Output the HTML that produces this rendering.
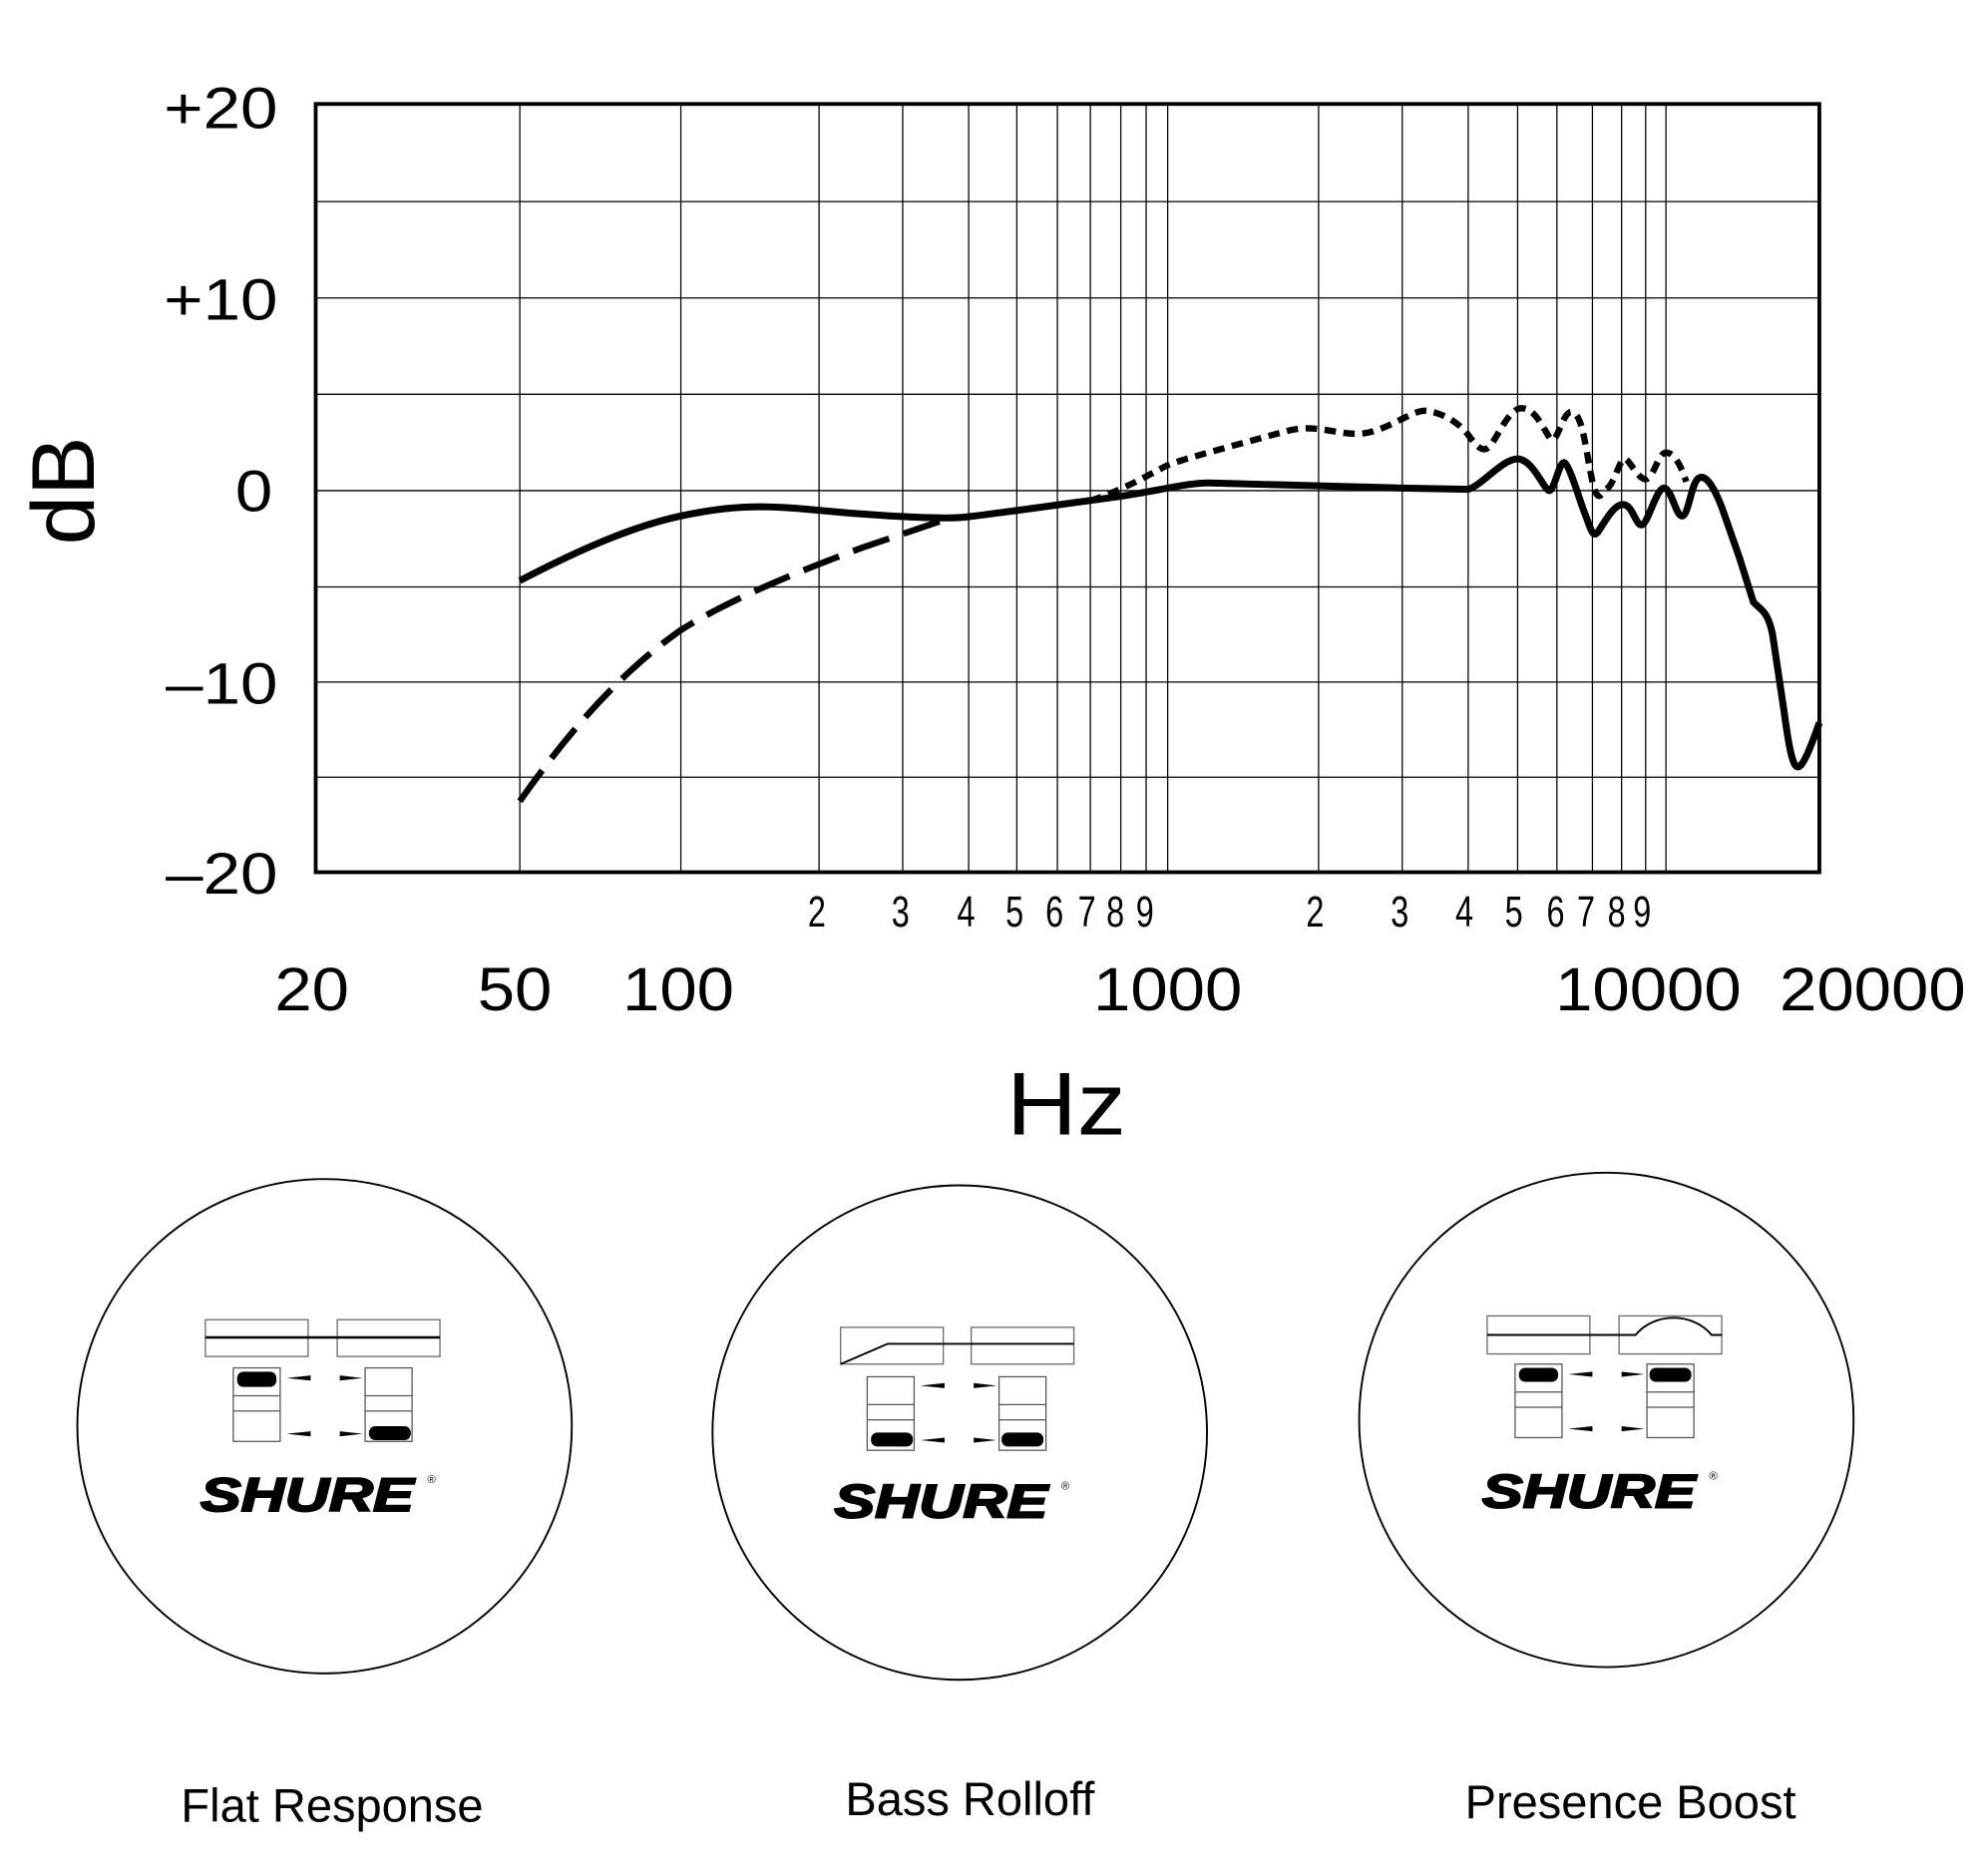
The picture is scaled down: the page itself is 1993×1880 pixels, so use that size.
<!DOCTYPE html>
<html><head><meta charset="utf-8"><style>
html,body{margin:0;padding:0;background:#fff;}
svg{display:block;}
text{font-family:"Liberation Sans",sans-serif;fill:#000;}
</style></head><body>
<svg width="1993" height="1880" viewBox="0 0 1568 1479" preserveAspectRatio="none" xmlns="http://www.w3.org/2000/svg">
<defs>
<g id="sw">
  <rect x="0" y="0" width="37" height="58" fill="none" stroke="#555" stroke-width="1"/>
  <line x1="0" y1="22" x2="37" y2="22" stroke="#555" stroke-width="1"/>
  <line x1="0" y1="34" x2="37" y2="34" stroke="#555" stroke-width="1"/>
</g>
<g id="shure">
  <text x="0" y="0" font-size="37" font-weight="bold" font-style="italic" stroke="#000" stroke-width="1.5" transform="scale(1.3,1)">SHURE</text>
  <text x="179" y="-22" font-size="9">®</text>
</g>
</defs>
<g stroke="#000" stroke-width="1">
<line x1="249" y1="159" x2="1435" y2="159"/>
<line x1="249" y1="235" x2="1435" y2="235"/>
<line x1="249" y1="311" x2="1435" y2="311"/>
<line x1="249" y1="387" x2="1435" y2="387"/>
<line x1="249" y1="463" x2="1435" y2="463"/>
<line x1="249" y1="538" x2="1435" y2="538"/>
<line x1="249" y1="613" x2="1435" y2="613"/>
<line x1="410" y1="82" x2="410" y2="688"/><line x1="537" y1="82" x2="537" y2="688"/>
<line x1="646" y1="82" x2="646" y2="688"/><line x1="712" y1="82" x2="712" y2="688"/>
<line x1="764" y1="82" x2="764" y2="688"/><line x1="802" y1="82" x2="802" y2="688"/>
<line x1="834" y1="82" x2="834" y2="688"/><line x1="860" y1="82" x2="860" y2="688"/>
<line x1="884" y1="82" x2="884" y2="688"/><line x1="904" y1="82" x2="904" y2="688"/>
<line x1="921" y1="82" x2="921" y2="688"/><line x1="1040" y1="82" x2="1040" y2="688"/>
<line x1="1106" y1="82" x2="1106" y2="688"/><line x1="1158" y1="82" x2="1158" y2="688"/>
<line x1="1197" y1="82" x2="1197" y2="688"/><line x1="1228" y1="82" x2="1228" y2="688"/>
<line x1="1256" y1="82" x2="1256" y2="688"/><line x1="1279" y1="82" x2="1279" y2="688"/>
<line x1="1298" y1="82" x2="1298" y2="688"/><line x1="1314" y1="82" x2="1314" y2="688"/>
</g>
<rect x="249" y="82" width="1186" height="606" fill="none" stroke="#000" stroke-width="3"/>
<g font-size="46" text-anchor="end">
<text transform="translate(219,101) scale(1.15,1)">+20</text>
<text transform="translate(219,252) scale(1.15,1)">+10</text>
<text transform="translate(215,403) scale(1.15,1)">0</text>
<text transform="translate(219,555) scale(1.15,1)">–10</text>
<text transform="translate(219,705) scale(1.15,1)">–20</text>
</g>
<text transform="translate(74,387) rotate(-90)" font-size="70" text-anchor="middle">dB</text>
<g font-size="34" text-anchor="middle" transform="scale(0.75,1)">
<text x="859" y="731">2</text><text x="947" y="731">3</text><text x="1016" y="731">4</text><text x="1067" y="731">5</text><text x="1109" y="731">6</text><text x="1143" y="731">7</text><text x="1173" y="731">8</text><text x="1204" y="731">9</text>
<text x="1383" y="731">2</text><text x="1472" y="731">3</text><text x="1540" y="731">4</text><text x="1592" y="731">5</text><text x="1636" y="731">6</text><text x="1668" y="731">7</text><text x="1700" y="731">8</text><text x="1727" y="731">9</text>
</g>
<g font-size="48" text-anchor="middle">
<text transform="translate(246,797) scale(1.1,1)">20</text>
<text transform="translate(406,797) scale(1.1,1)">50</text>
<text transform="translate(535,797) scale(1.1,1)">100</text>
<text transform="translate(921,797) scale(1.1,1)">1000</text>
<text transform="translate(1300,797) scale(1.1,1)">10000</text>
<text transform="translate(1477,797) scale(1.1,1)">20000</text>
</g>
<text transform="translate(841,895) scale(1.1,1)" font-size="70" text-anchor="middle">Hz</text>
<path d="M410,632 C450,575 490,530 537,497 C580,470 640,447 680,432 L745,410" fill="none" stroke="#000" stroke-width="5" stroke-dasharray="30,12"/>
<path d="M860,395 C890,385 910,372 921,367 S990,347 1015,340 S1060,346 1080,341 S1115,323 1125,324 S1150,332 1158,343 S1170,357 1175,352 S1190,322 1200,322 S1216,335 1222,345 S1232,323 1240,325 S1250,350 1255,375 S1262,390 1268,385 S1278,360 1282,362 S1292,378 1298,378 S1308,357 1314,357 S1325,365 1330,380" fill="none" stroke="#000" stroke-width="5" stroke-dasharray="9,6"/>
<path d="M410,458 C460,432 500,415 537,407 S600,398 640,402 S740,410 760,408 S850,396 880,392 S940,380 955,381 L1106,385 L1158,386 C1170,382 1185,362 1197,362 S1218,387 1222,387 S1230,363 1234,365 S1246,395 1250,405 S1256,425 1260,420 S1272,398 1280,398 S1290,415 1295,414 S1307,383 1313,385 S1322,408 1327,407 S1334,380 1340,377 S1352,385 1358,400 L1372,440 L1383,475 C1390,482 1394,482 1398,500 L1407,560 C1411,590 1414,605 1418,605 S1428,590 1435,570" fill="none" stroke="#000" stroke-width="5.5"/>
<g fill="none" stroke="#000" stroke-width="1.5">
<circle cx="256" cy="1125" r="195"/><circle cx="757" cy="1130" r="195"/><circle cx="1267" cy="1120" r="195"/>
</g>
<g>
<rect x="162" y="1041" width="81" height="29" fill="none" stroke="#666" stroke-width="1"/>
<rect x="266" y="1041" width="81" height="29" fill="none" stroke="#666" stroke-width="1"/>
<line x1="162" y1="1055" x2="347" y2="1055" stroke="#000" stroke-width="2"/>
<use href="#sw" x="184" y="1079"/><use href="#sw" x="288" y="1079"/>
<rect x="187" y="1082" width="31" height="12" rx="5" fill="#000"/>
<rect x="291" y="1125" width="33" height="11" rx="5" fill="#000"/>
<path d="M226,1087 L245,1085 L245,1089 Z M226,1131 L245,1129 L245,1133 Z M286,1087 L268,1085 L268,1089 Z M286,1131 L268,1129 L268,1133 Z" fill="#000"/>
<use href="#shure" x="158" y="1192"/>
</g>
<g>
<rect x="663" y="1047" width="81" height="29" fill="none" stroke="#666" stroke-width="1"/>
<rect x="766" y="1047" width="81" height="29" fill="none" stroke="#666" stroke-width="1"/>
<polyline points="663,1076 700,1060 847,1060" fill="none" stroke="#000" stroke-width="1.5"/>
<use href="#sw" x="684" y="1086"/><use href="#sw" x="788" y="1086"/>
<rect x="687" y="1130" width="33" height="11" rx="5" fill="#000"/>
<rect x="790" y="1130" width="33" height="11" rx="5" fill="#000"/>
<path d="M726,1093 L745,1091 L745,1095 Z M726,1136 L745,1134 L745,1138 Z M786,1093 L768,1091 L768,1095 Z M786,1136 L768,1134 L768,1138 Z" fill="#000"/>
<use href="#shure" x="658" y="1197"/>
</g>
<g>
<rect x="1173" y="1038" width="81" height="30" fill="none" stroke="#666" stroke-width="1"/>
<rect x="1277" y="1038" width="81" height="30" fill="none" stroke="#666" stroke-width="1"/>
<path d="M1173,1053 L1290,1053 C1305,1035 1335,1035 1350,1053 L1358,1053" fill="none" stroke="#000" stroke-width="1.5"/>
<use href="#sw" x="1195" y="1076"/><use href="#sw" x="1299" y="1076"/>
<rect x="1198" y="1079" width="31" height="11" rx="5" fill="#000"/>
<rect x="1301" y="1079" width="33" height="11" rx="5" fill="#000"/>
<path d="M1237,1084 L1256,1082 L1256,1086 Z M1237,1127 L1256,1125 L1256,1129 Z M1297,1084 L1279,1082 L1279,1086 Z M1297,1127 L1279,1125 L1279,1129 Z" fill="#000"/>
<use href="#shure" x="1169" y="1189"/>
</g>
<g font-size="37" text-anchor="middle">
<text x="262" y="1437">Flat Response</text>
<text x="765" y="1432">Bass Rolloff</text>
<text x="1286" y="1434">Presence Boost</text>
</g>
</svg>
</body></html>
